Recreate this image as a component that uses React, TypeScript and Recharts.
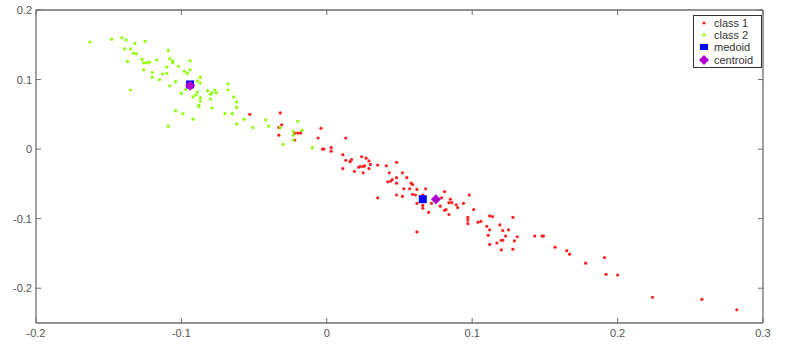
import { ScatterChart, Scatter, XAxis, YAxis, Legend } from 'recharts';

// values
const class1: [number, number][] = [
  [-0.053, 0.05], [-0.032, 0.052], [-0.031, 0.035], [-0.033, 0.031], [-0.033, 0.02],
  [-0.022, 0.013], [-0.022, 0.023], [-0.02, 0.023], [-0.018, 0.023], [-0.004, 0.03],
  [-0.006, 0.016], [-0.003, 0.0], [-0.002, 0.0], [0.003, 0.002], [0.003, -0.003],
  [0.013, 0.016], [0.011, -0.008], [0.013, -0.016], [0.011, -0.028], [0.016, -0.018],
  [0.017, -0.015], [0.019, -0.032], [0.022, -0.026], [0.023, -0.025], [0.025, -0.025],
  [0.026, -0.024], [0.024, -0.011], [0.027, -0.013], [0.029, -0.017], [0.03, -0.022],
  [0.029, -0.028], [0.025, -0.034], [0.035, -0.023], [0.041, -0.024], [0.048, -0.019],
  [0.043, -0.034], [0.042, -0.047], [0.044, -0.046], [0.045, -0.044], [0.048, -0.041],
  [0.048, -0.049], [0.052, -0.034], [0.055, -0.041], [0.058, -0.049], [0.059, -0.051],
  [0.053, -0.057], [0.057, -0.057], [0.062, -0.058], [0.048, -0.066], [0.052, -0.068],
  [0.035, -0.07], [0.061, -0.066], [0.062, -0.078], [0.068, -0.057], [0.059, -0.065],
  [0.066, -0.081], [0.066, -0.085], [0.07, -0.091], [0.072, -0.078], [0.079, -0.07],
  [0.081, -0.061], [0.078, -0.082], [0.081, -0.088], [0.082, -0.087], [0.084, -0.077],
  [0.086, -0.077], [0.085, -0.072], [0.089, -0.08], [0.09, -0.084], [0.094, -0.078],
  [0.098, -0.066], [0.084, -0.094], [0.101, -0.087], [0.062, -0.119], [0.097, -0.098],
  [0.097, -0.102], [0.097, -0.107], [0.104, -0.105], [0.106, -0.104], [0.112, -0.096],
  [0.114, -0.097], [0.11, -0.111], [0.112, -0.116], [0.119, -0.109], [0.121, -0.117],
  [0.125, -0.116], [0.128, -0.098], [0.111, -0.124], [0.123, -0.125], [0.121, -0.131],
  [0.12, -0.131], [0.129, -0.132], [0.131, -0.126], [0.112, -0.137], [0.117, -0.135],
  [0.12, -0.145], [0.128, -0.144], [0.143, -0.125], [0.148, -0.125], [0.149, -0.125],
  [0.157, -0.141], [0.165, -0.146], [0.167, -0.151], [0.178, -0.164], [0.191, -0.156],
  [0.192, -0.18], [0.2, -0.181], [0.224, -0.213], [0.258, -0.216], [0.282, -0.231],
  [0.066, -0.066],
];

const class2: [number, number][] = [
  [-0.163, 0.154], [-0.148, 0.158], [-0.141, 0.16], [-0.138, 0.157], [-0.132, 0.152],
  [-0.125, 0.155], [-0.139, 0.144], [-0.135, 0.144], [-0.133, 0.138], [-0.131, 0.137],
  [-0.127, 0.129], [-0.126, 0.124], [-0.124, 0.124], [-0.122, 0.125], [-0.117, 0.128],
  [-0.137, 0.126], [-0.126, 0.114], [-0.12, 0.11], [-0.12, 0.103], [-0.115, 0.1],
  [-0.113, 0.108], [-0.11, 0.109], [-0.109, 0.142], [-0.108, 0.13], [-0.106, 0.127],
  [-0.106, 0.124], [-0.11, 0.118], [-0.102, 0.119], [-0.098, 0.112], [-0.096, 0.109],
  [-0.094, 0.127], [-0.094, 0.114], [-0.104, 0.097], [-0.108, 0.091], [-0.135, 0.085],
  [-0.1, 0.08], [-0.097, 0.086], [-0.093, 0.089], [-0.089, 0.098], [-0.087, 0.103],
  [-0.087, 0.095], [-0.092, 0.075], [-0.09, 0.078], [-0.089, 0.082], [-0.087, 0.074],
  [-0.082, 0.084], [-0.08, 0.079], [-0.079, 0.081], [-0.077, 0.085], [-0.076, 0.081],
  [-0.087, 0.069], [-0.08, 0.072], [-0.088, 0.063], [-0.088, 0.061], [-0.068, 0.094],
  [-0.068, 0.085], [-0.064, 0.075], [-0.062, 0.068], [-0.062, 0.06], [-0.104, 0.055],
  [-0.099, 0.051], [-0.092, 0.043], [-0.109, 0.033], [-0.079, 0.059], [-0.07, 0.051],
  [-0.065, 0.051], [-0.062, 0.036], [-0.057, 0.043], [-0.051, 0.031], [-0.042, 0.042],
  [-0.04, 0.033], [-0.03, 0.007], [-0.023, 0.025], [-0.02, 0.04], [-0.017, 0.027],
  [-0.023, 0.02], [-0.023, 0.013], [-0.01, 0.002], [-0.032, 0.031],
];

const medoids: [number, number][] = [[0.066, -0.072], [-0.094, 0.093]];
const centroids: [number, number][] = [[0.075, -0.072], [-0.094, 0.091]];

const xTicks = [-0.2, -0.1, 0, 0.1, 0.2, 0.3];
const yTicks = [-0.2, -0.1, 0, 0.1, 0.2];

const toPoints = (arr: [number, number][]) => arr.map(([x, y]) => ({ x, y }));

const AXIS = '#6e6e6e';
const TICK_LEN = 5;
const font = 'Liberation Sans, Arial, Helvetica, sans-serif';
const fmt = (v: number) => String(v);

function BottomTick({ x, y, payload }: any) {
  return (
    <g>
      <line x1={x} y1={y} x2={x} y2={y - TICK_LEN} stroke={AXIS} />
      <text x={x} y={y + 14} textAnchor="middle" fontFamily={font} fontSize={11} fill="#555">
        {fmt(payload.value)}
      </text>
    </g>
  );
}

function LeftTick({ x, y, payload }: any) {
  return (
    <g>
      <line x1={x} y1={y} x2={x + TICK_LEN} y2={y} stroke={AXIS} />
      <text x={x - 4} y={y + 4} textAnchor="end" fontFamily={font} fontSize={11} fill="#555">
        {fmt(payload.value)}
      </text>
    </g>
  );
}

function TopTick({ x, y }: any) {
  return <line x1={x} y1={y} x2={x} y2={y + TICK_LEN} stroke={AXIS} />;
}

function RightTick({ x, y }: any) {
  return <line x1={x} y1={y} x2={x - TICK_LEN} y2={y} stroke={AXIS} />;
}

const Dot = (color: string) => (props: any) => (
  <circle cx={props.cx} cy={props.cy} r={1.6} fill={color} />
);

const Square = (props: any) => (
  <rect x={props.cx - 4} y={props.cy - 4} width={8} height={8} fill="#0000ff" />
);

const Diamond = (props: any) => {
  const { cx, cy } = props;
  const r = 5;
  return <path d={`M${cx},${cy - r}L${cx + r},${cy}L${cx},${cy + r}L${cx - r},${cy}Z`} fill="#b000d0" />;
};

const legendItems = [
  { name: 'class 1', kind: 'dot', color: '#ff2020' },
  { name: 'class 2', kind: 'dot', color: '#8cff00' },
  { name: 'medoid', kind: 'square', color: '#0000ff' },
  { name: 'centroid', kind: 'diamond', color: '#b000d0' },
];

function LegendBox() {
  return (
    <div
      style={{
        border: '1px solid #333',
        background: '#fff',
        width: 67,
        height: 50,
        boxSizing: 'content-box',
        fontFamily: font,
        fontSize: 11,
        color: '#333',
        paddingTop: 1,
      }}
    >
      {legendItems.map((it) => (
        <div key={it.name} style={{ height: 12.2, lineHeight: '12px', display: 'flex', alignItems: 'center' }}>
          <svg width={20} height={12} style={{ flex: 'none' }}>
            {it.kind === 'dot' && <circle cx={10} cy={6} r={1.6} fill={it.color} />}
            {it.kind === 'square' && <rect x={6} y={3} width={8} height={6} fill={it.color} />}
            {it.kind === 'diamond' && <path d="M10,1L15,6L10,11L5,6Z" fill={it.color} />}
          </svg>
          <span>{it.name}</span>
        </div>
      ))}
    </div>
  );
}

export default function App() {
  return (
    <div style={{ position: 'absolute', left: 0, top: 0, width: 786, height: 353, background: '#fff' }}>
      <ScatterChart width={786} height={353} margin={{ top: 0, right: 0, bottom: 0, left: 0 }}>
        <XAxis
          xAxisId="b"
          dataKey="x"
          type="number"
          domain={[-0.2, 0.3]}
          ticks={xTicks}
          interval={0}
          height={30}
          tickSize={0}
          tickMargin={0}
          tickLine={false}
          axisLine={{ stroke: AXIS, strokeWidth: 1.3 }}
          tick={<BottomTick />}
          allowDataOverflow
        />
        <XAxis
          xAxisId="t"
          orientation="top"
          dataKey="x"
          type="number"
          domain={[-0.2, 0.3]}
          ticks={xTicks}
          interval={0}
          height={10}
          tickSize={0}
          tickMargin={0}
          tickLine={false}
          axisLine={{ stroke: AXIS, strokeWidth: 1.3 }}
          tick={<TopTick />}
          allowDataOverflow
        />
        <YAxis
          yAxisId="l"
          dataKey="y"
          type="number"
          domain={[-0.25, 0.2]}
          ticks={yTicks}
          interval={0}
          width={36}
          tickSize={0}
          tickMargin={0}
          tickLine={false}
          axisLine={{ stroke: AXIS, strokeWidth: 1.3 }}
          tick={<LeftTick />}
          allowDataOverflow
        />
        <YAxis
          yAxisId="r"
          orientation="right"
          dataKey="y"
          type="number"
          domain={[-0.25, 0.2]}
          ticks={yTicks}
          interval={0}
          width={23}
          tickSize={0}
          tickMargin={0}
          tickLine={false}
          axisLine={{ stroke: AXIS, strokeWidth: 1.3 }}
          tick={<RightTick />}
          allowDataOverflow
        />
        <Legend
          layout="vertical"
          align="center"
          verticalAlign="middle"
          content={<LegendBox />}
          wrapperStyle={{ left: 693, top: 15, width: 70, height: 52 }}
        />
        <Scatter name="class 1" xAxisId="b" yAxisId="l" data={toPoints(class1)} fill="#ff2020" shape={Dot('#ff2020')} isAnimationActive={false} />
        <Scatter name="class 2" xAxisId="b" yAxisId="l" data={toPoints(class2)} fill="#8cff00" shape={Dot('#8cff00')} isAnimationActive={false} />
        <Scatter name="medoid" xAxisId="b" yAxisId="l" data={toPoints(medoids)} fill="#0000ff" shape={Square} isAnimationActive={false} />
        <Scatter name="centroid" xAxisId="b" yAxisId="l" data={toPoints(centroids)} fill="#b000d0" shape={Diamond} isAnimationActive={false} />
      </ScatterChart>
    </div>
  );
}
